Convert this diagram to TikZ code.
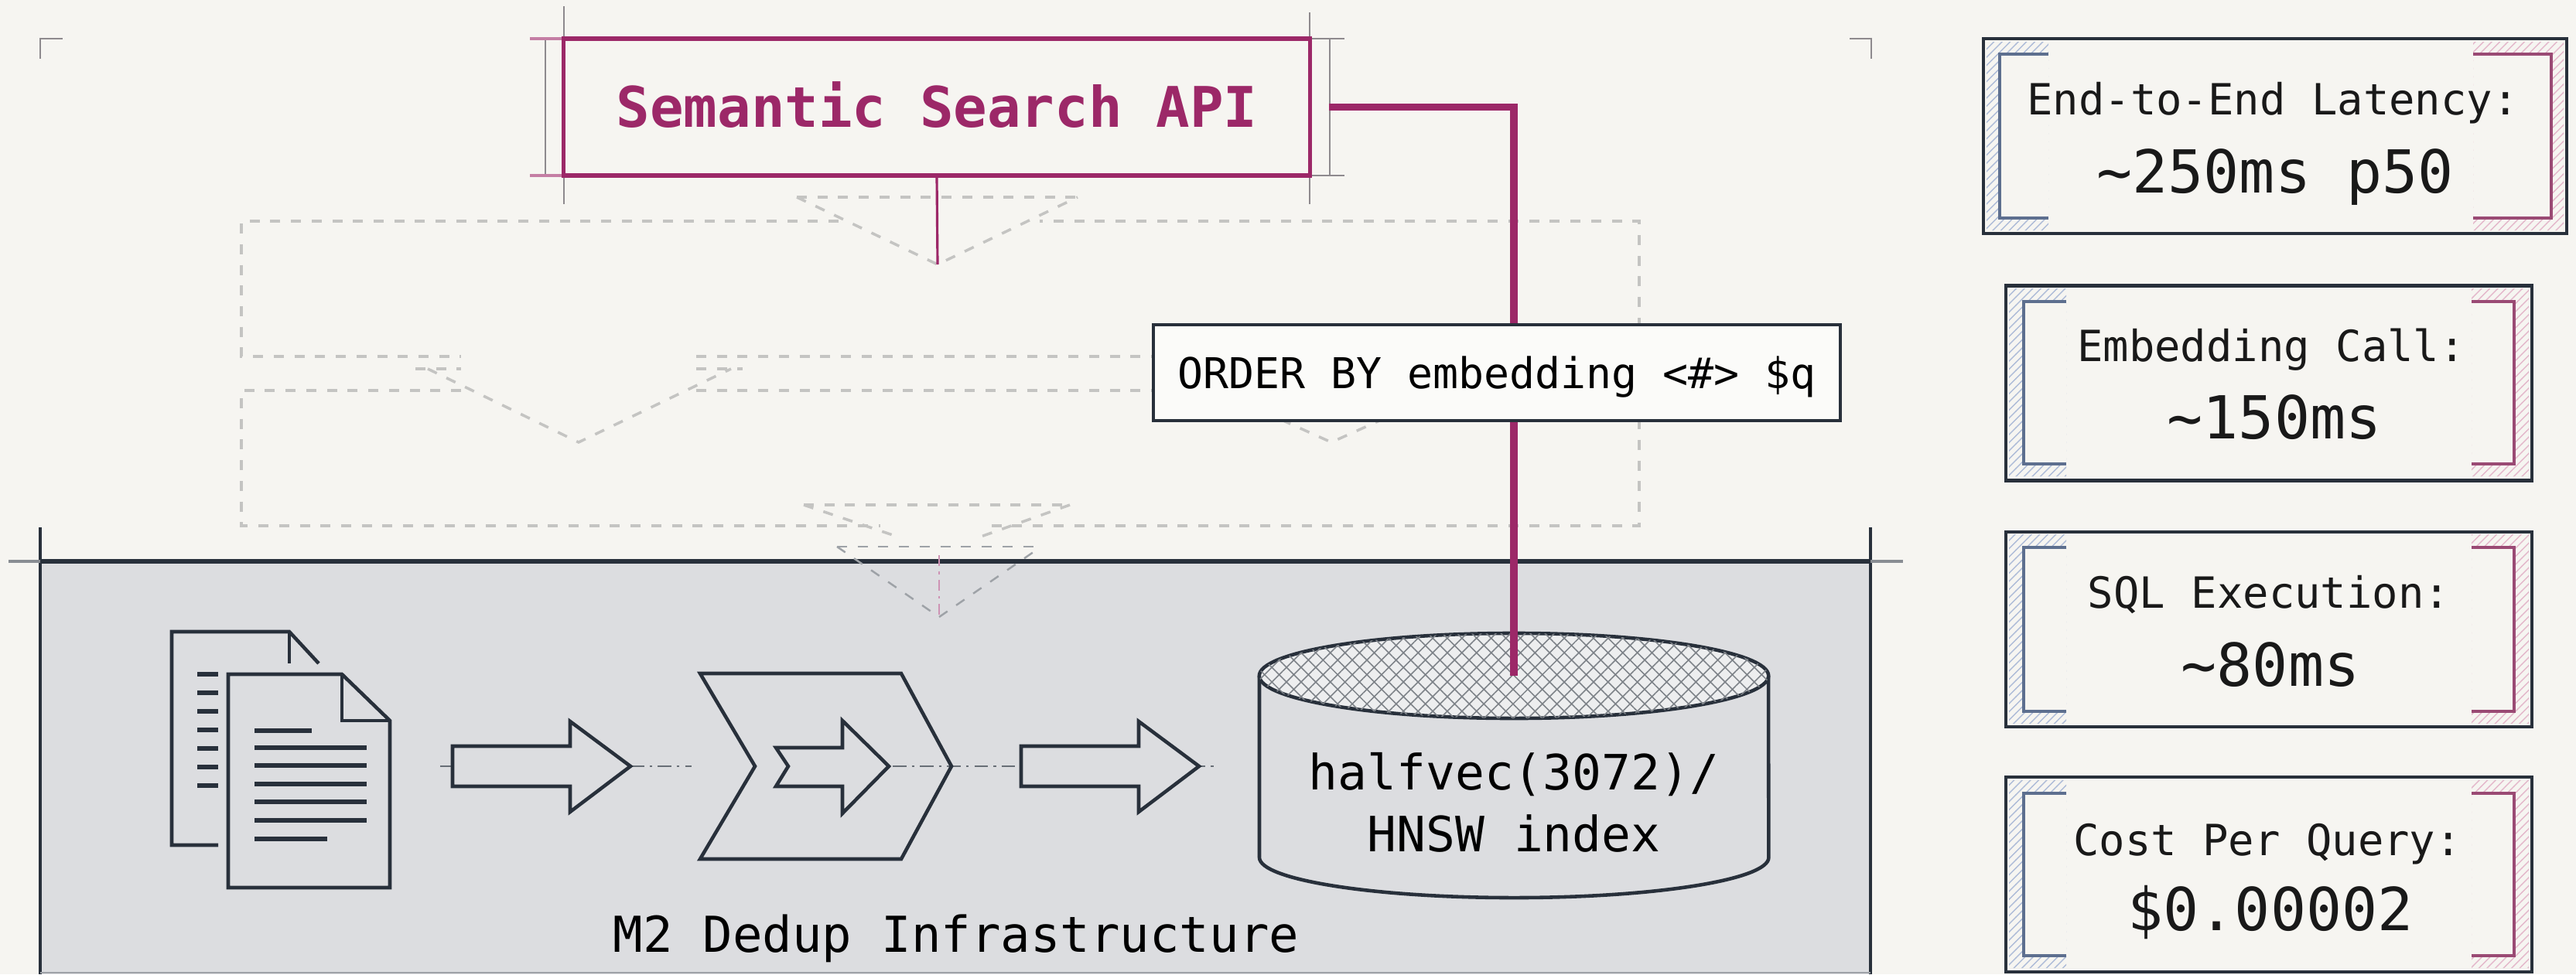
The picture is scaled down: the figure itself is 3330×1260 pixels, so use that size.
\documentclass[tikz,border=0pt]{standalone}
\usepackage{fontspec}
\setmainfont{DejaVu Sans Mono}
\usepackage{xcolor}
\usepackage{tikz}
\usetikzlibrary{shapes.geometric, patterns, patterns.meta}

\definecolor{paper}{HTML}{F6F5F1}
\definecolor{ink}{HTML}{28303B}
\definecolor{apipink}{HTML}{9C2868}
\definecolor{bandgray}{HTML}{DCDDE0}
\definecolor{ghostgray}{HTML}{C4C4C2}
\definecolor{tickgray}{HTML}{8E8A8E}
\definecolor{hatchblue}{HTML}{AEBCD8}
\definecolor{hatchpink}{HTML}{E4B8CB}
\definecolor{brackblue}{HTML}{5D6F8F}
\definecolor{brackpink}{HTML}{9A4A74}

\begin{document}
\begin{tikzpicture}[x=0.01cm, y=-0.01cm,
    ghost/.style={draw=ghostgray, line width=1pt, dash pattern=on 3.7pt off 3.9pt},
    stroke/.style={draw=ink, line width=1.3pt},
    dashdot/.style={draw=ink!70, line width=0.6pt, dash pattern=on 5pt off 2pt on 1pt off 2pt},
    conn/.style={draw=apipink, line width=2.8pt},
    panel/.style={draw=ink, line width=1.2pt, fill=paper, inner sep=0pt, minimum height=2.52cm},
    statkey/.style={anchor=base, font=\fontsize{15.8}{18}\selectfont, text=black!90},
    statval/.style={anchor=base, font=\fontsize{21.8}{26}\selectfont, text=black!90}]

  \fill[paper] (0,0) rectangle (3330,1260);
  \useasboundingbox (0,0) rectangle (3330,1260);

  % corner marks
  \draw[tickgray, line width=0.6pt] (52,76) -- (52,50) -- (81,50);
  \draw[tickgray, line width=0.6pt] (2391,50) -- (2419,50) -- (2419,76);

  % ghost layers behind the query
  \draw[ghost] (1084,286) -- (312,286) -- (312,461) -- (596,461);
  \draw[ghost] (900,461) -- (2119,461) -- (2119,286) -- (1344,286);
  \draw[ghost] (596,505) -- (312,505) -- (312,680) -- (1138,680);
  \draw[ghost] (900,505) -- (2119,505) -- (2119,680) -- (1268,680);
  \draw[ghost] (1030,255) -- (1393,255);
  \draw[ghost] (1030,255) -- (1212,342) -- (1393,255);
  \draw[ghost] (537,477) -- (596,477);
  \draw[ghost] (900,477) -- (960,477);
  \draw[ghost] (553,477) -- (748,572) -- (945,477);
  \draw[ghost] (1510,477) -- (1721,572) -- (1932,477);
  \draw[ghost] (1039,653) -- (1383,653);
  \draw[ghost] (1039,653) -- (1160,694);
  \draw[ghost] (1383,653) -- (1268,694);

  % infrastructure band
  \fill[bandgray] (52,726) rectangle (2418,1260);
  \draw[ink, line width=0.9pt] (52,682) -- (52,1260);
  \draw[ink, line width=0.9pt] (2418,682) -- (2418,1260);
  \draw[ink!55, line width=1.4pt] (11,726) -- (2460,726);
  \draw[ink, line width=1.6pt] (52,726) -- (2418,726);
  \draw[ink!45, line width=0.6pt] (52,1258) -- (2418,1258);

  \draw[ghost, draw=ink!45, line width=0.7pt] (1082,707) -- (1346,707);
  \draw[ghost, draw=ink!45, line width=0.7pt] (1082,707) -- (1214,798) -- (1346,707);
  \draw[apipink!50, line width=0.6pt, dash pattern=on 4pt off 2pt on 1pt off 2pt] (1214,718) -- (1214,798);

  % documents
  \draw[stroke] (282,1093) -- (222,1093) -- (222,817) -- (374,817) -- (412,858);
  \draw[stroke] (374,817) -- (374,858);
  \foreach \y in {872,896,...,1016}
    \draw[ink, line width=1.6pt] (255,\y) -- (282,\y);
  \draw[stroke] (295,872) -- (442,872) -- (504,932) -- (504,1148) -- (295,1148) -- cycle;
  \draw[stroke] (442,872) -- (442,932) -- (504,932);
  \foreach \y/\e in {945/403, 967/474, 990/474, 1014/474, 1037/474, 1061/474, 1085/423}
    \draw[ink, line width=1.6pt] (329,\y) -- (\e,\y);

  % flow arrows and dedup step
  \draw[dashdot] (569,991) -- (894,991);
  \draw[dashdot] (1154,991) -- (1570,991);
  \foreach \x in {585,1320}
    \draw[stroke, fill=bandgray] (\x,965) -- ({\x+152},965) -- ({\x+152},933) -- ({\x+230},991)
      -- ({\x+152},1050) -- ({\x+152},1017) -- (\x,1017) -- cycle;
  \draw[stroke] (905,871) -- (1165,871) -- (1230,991) -- (1165,1111) -- (905,1111) -- (976,991) -- cycle;
  \draw[stroke, fill=bandgray] (1003,967) -- (1089,967) -- (1089,932) -- (1149,991) -- (1089,1052)
    -- (1089,1017) -- (1003,1017) -- (1019,991) -- cycle;

  % vector store
  \draw[stroke, fill=bandgray] (1628,874) -- (1628,1109)
    arc[start angle=180, end angle=360, x radius=3.29cm, y radius=0.52cm] -- (2286,874);
  \node[ellipse, draw=ink, line width=1.3pt, fill=bandgray!50!white, inner sep=0pt,
        minimum width=6.58cm, minimum height=1.1cm,
        postaction={pattern={Hatch[angle=45, distance=3.8pt, line width=0.45pt]}, pattern color=ink!60}] (dbtop) at (1957,874) {};
  \node[align=center, font=\fontsize{17.9}{22.8}\selectfont] (db) at (1957,1038) {halfvec(3072)/\\HNSW index};
  \node[anchor=base, font=\fontsize{18.2}{22}\selectfont] (infra) at (1236,1231) {M2 Dedup Infrastructure};

  % api box with crop lines
  \draw[tickgray, line width=0.7pt] (729,8) -- (729,264);
  \draw[tickgray, line width=0.7pt] (1693,16) -- (1693,264);
  \draw[tickgray, line width=0.6pt] (705,50) -- (705,227);
  \draw[tickgray, line width=0.6pt] (1719,50) -- (1719,227);
  \draw[apipink!60, line width=1pt] (685,50) -- (729,50);
  \draw[apipink!60, line width=1pt] (685,227) -- (729,227);
  \draw[tickgray, line width=0.6pt] (1693,50) -- (1738,50);
  \draw[tickgray, line width=0.6pt] (1693,227) -- (1738,227);
  \node[draw=apipink, line width=1.5pt, fill=paper, inner sep=0pt, minimum width=9.64cm, minimum height=1.77cm,
        text=apipink, font=\fontsize{20.6}{24}\selectfont\bfseries, text height=15pt, text depth=0pt] (api) at (1211,138.5) {Semantic Search API};

  \coordinate (funnel) at (1212,342);
  \draw[apipink, line width=0.9pt] (api.south) -- (funnel);
  \draw[conn] ([xshift=0.22cm]api.east) -| (dbtop.center);

  \node[draw=ink, line width=1.2pt, fill=white!60!paper, inner sep=0pt, minimum width=8.88cm, minimum height=1.24cm,
        font=\fontsize{15.6}{18}\selectfont, text height=11.4pt, text depth=0pt] (query) at (1935,482) {ORDER BY embedding <\#> \$q};

  % stat panels
  \node[panel, minimum width=7.54cm] (lat) at (2941,176) {};
  \node[panel, minimum width=6.80cm] (emb) at (2933,495.5) {};
  \node[panel, minimum width=6.80cm] (sql) at (2933,814) {};
  \node[panel, minimum width=6.80cm] (cost) at (2933,1131) {};

  \fill[pattern=north east lines, pattern color=hatchblue, even odd rule] (2568,54) rectangle (2648,298) (2585,70) rectangle (2648,282);
  \fill[pattern=north east lines, pattern color=hatchpink, even odd rule] (3197,54) rectangle (3314,298) (3197,70) rectangle (3298,282);
  \draw[brackblue, line width=1pt] (2648,70) -- (2585,70) -- (2585,282) -- (2648,282);
  \draw[brackpink, line width=1pt] (3197,70) -- (3298,70) -- (3298,282) -- (3197,282);
  \foreach \t/\b in {390/600, 708/920, 1026/1236} {
    \fill[pattern=north east lines, pattern color=hatchblue, even odd rule] (2597,{\t-17}) rectangle (2671,{\b+16}) (2616,\t) rectangle (2671,\b);
    \fill[pattern=north east lines, pattern color=hatchpink, even odd rule] (3195,{\t-17}) rectangle (3269,{\b+16}) (3195,\t) rectangle (3250,\b);
    \draw[brackblue, line width=1pt] (2671,\t) -- (2616,\t) -- (2616,\b) -- (2671,\b);
    \draw[brackpink, line width=1pt] (3195,\t) -- (3250,\t) -- (3250,\b) -- (3195,\b);
  }

  \node[statkey] (latk) at (2938,148) {End-to-End Latency:};
  \node[statval] (latv) at (2941,249) {\textasciitilde250ms p50};
  \node[statkey] (embk) at (2936,467) {Embedding Call:};
  \node[statval] (embv) at (2940,567) {\textasciitilde150ms};
  \node[statkey] (sqlk) at (2933,786) {SQL Execution:};
  \node[statval] (sqlv) at (2935,887) {\textasciitilde80ms};
  \node[statkey] (costk) at (2931,1106) {Cost Per Query:};
  \node[statval] (costv) at (2935,1203) {\$0.00002};
\end{tikzpicture}
\end{document}
